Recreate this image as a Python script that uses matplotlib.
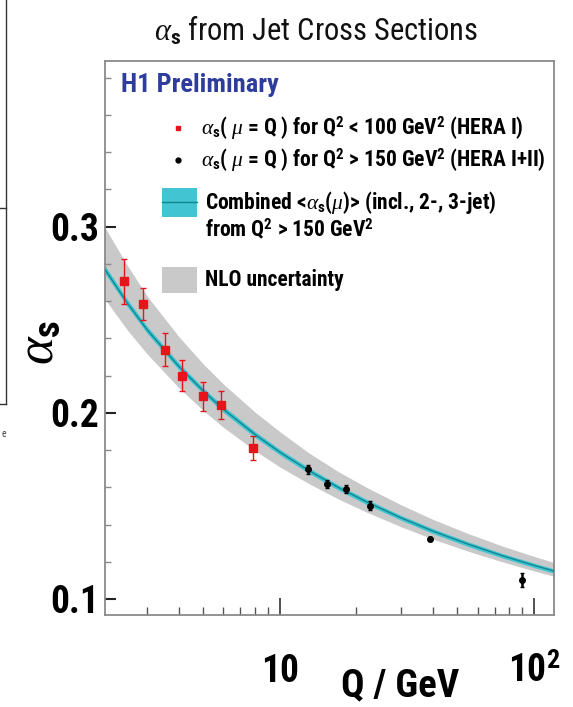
import matplotlib
matplotlib.use("Agg")
import matplotlib.pyplot as plt
from matplotlib import font_manager as fm
from matplotlib.ticker import FixedLocator, NullFormatter
from matplotlib.patches import Rectangle
from matplotlib.lines import Line2D


def narrow_family():
    """Pick an installed narrow/condensed sans family; fall back to a regular one."""
    prefer = ["Liberation Sans Narrow", "Roboto Condensed", "Open Sans Condensed",
              "Noto Sans Condensed", "DejaVu Sans Condensed", "Noto Sans",
              "DejaVu Sans", "Open Sans", "Roboto", "Lato", "Inter"]
    found = {}
    for f in fm.fontManager.ttflist:
        named = any(w in f.name for w in ("Narrow", "Condensed", "Cond"))
        stretched = str(f.stretch) == "condensed"
        if (named or stretched) and f.style == "normal":
            found.setdefault(f.name, named)
    for p in prefer:
        if p in found:
            return p, (not found[p])
    return None, False


FAM, NEED_STRETCH = narrow_family()
SCALE = 1.0
if FAM is None:
    FAM, SCALE = "Liberation Sans", 0.84
STRETCH = "condensed" if NEED_STRETCH else "normal"

plt.rcParams["font.family"] = [FAM, "Liberation Sans", "DejaVu Sans"]
plt.rcParams["font.stretch"] = STRETCH
plt.rcParams["mathtext.fontset"] = "custom"
plt.rcParams["mathtext.rm"] = f"{FAM}:bold:stretch={STRETCH}"
plt.rcParams["mathtext.bf"] = f"{FAM}:bold:stretch={STRETCH}"
plt.rcParams["mathtext.it"] = "Liberation Serif:italic"

# alpha_s(mu = Q) for Q^2 < 100 GeV^2 (HERA I)
q_low = [2.43, 2.90, 3.53, 4.12, 4.97, 5.84, 7.85]
as_low = [0.2706, 0.2584, 0.2339, 0.2199, 0.2088, 0.2043, 0.1810]
err_low = [0.0120, 0.0085, 0.0088, 0.0083, 0.0080, 0.0074, 0.0065]

# alpha_s(mu = Q) for Q^2 > 150 GeV^2 (HERA I+II)
q_high = [12.9, 15.3, 18.2, 22.6, 39.0, 89.6]
as_high = [0.1697, 0.1617, 0.1590, 0.1502, 0.1321, 0.1102]
err_high = [0.0025, 0.0020, 0.0020, 0.0022, 0.0012, 0.0035]

# combined running alpha_s with experimental and NLO theory bands
q_fit = [2.05, 2.5, 3, 4, 5, 6, 8, 10, 13, 17, 22, 30, 40, 55, 75, 100, 120]
as_fit = [0.2770, 0.2593, 0.2447, 0.2250, 0.2117, 0.2019, 0.1883, 0.1789, 0.1690,
          0.1599, 0.1521, 0.1436, 0.1365, 0.1295, 0.1233, 0.1181, 0.1150]
exp_err = [0.0021, 0.0020, 0.0019, 0.0018, 0.0017, 0.0017, 0.0016, 0.0015, 0.0015,
           0.0014, 0.0014, 0.0013, 0.0013, 0.0013, 0.0012, 0.0012, 0.0012]
nlo_hi = [0.2995, 0.2796, 0.2628, 0.2410, 0.2262, 0.2154, 0.2003, 0.1899, 0.1785,
          0.1684, 0.1599, 0.1506, 0.1428, 0.1352, 0.1285, 0.1229, 0.1196]
nlo_lo = [0.2610, 0.2448, 0.2317, 0.2135, 0.2012, 0.1922, 0.1796, 0.1709, 0.1620,
          0.1537, 0.1466, 0.1388, 0.1322, 0.1257, 0.1200, 0.1151, 0.1122]

y_ticks = [0.1, 0.2, 0.3]
y_ticklabels = ["0.1", "0.2", "0.3"]
x_ticks = [10, 100]
x_ticklabels = [r"$10$", r"$10^{2}$"]

W, H = 573, 707
fig = plt.figure(figsize=(W / 100, H / 100), dpi=100)
fig.patch.set_facecolor("white")
ax = fig.add_axes([105 / W, (H - 615) / H, 449 / W, 554 / H])

GRAY = "#c9c9c9"
CYAN = "#42c4d2"
TEAL = "#0f8790"

ax.fill_between(q_fit, nlo_lo, nlo_hi, color=GRAY, lw=0, zorder=1)
cy_lo = [a - e for a, e in zip(as_fit, exp_err)]
cy_hi = [a + e for a, e in zip(as_fit, exp_err)]
ax.fill_between(q_fit, cy_lo, cy_hi, color=CYAN, lw=0, zorder=2)
ax.plot(q_fit, as_fit, color=TEAL, lw=1.0, zorder=3)

ax.errorbar(q_low, as_low, yerr=err_low, fmt="s", color="#e8141c", ms=6,
            mec="#e8141c", elinewidth=1.0, capsize=2, capthick=1.0, zorder=5)
ax.errorbar(q_high, as_high, yerr=err_high, fmt="o", color="black", ms=4,
            elinewidth=1.8, capsize=1.5, capthick=1.0, zorder=5)

ax.set_xscale("log")
ax.set_xlim(2.05, 120)
ax.set_ylim(0.0914, 0.389)

for s in ax.spines.values():
    s.set_color("#8a8a8a")
    s.set_linewidth(1.3)

ax.set_yticks(y_ticks, labels=y_ticklabels, fontsize=27 * SCALE, fontweight="bold")
ax.yaxis.set_minor_locator(FixedLocator([0.12, 0.14, 0.16, 0.18, 0.22, 0.24, 0.26, 0.28,
                                         0.32, 0.34, 0.36, 0.38]))
ax.set_xticks(x_ticks, labels=x_ticklabels, fontsize=27 * SCALE)
ax.xaxis.set_minor_locator(FixedLocator([3, 4, 5, 6, 7, 8, 9, 20, 30, 40, 50, 60, 70, 80, 90]))
ax.xaxis.set_minor_formatter(NullFormatter())

ax.tick_params(axis="y", which="major", direction="in", length=8, width=1.5,
               color="#222222", pad=4)
ax.tick_params(axis="y", which="minor", direction="in", length=4.5, width=1.0,
               color="#8a8a8a")
ax.tick_params(axis="x", which="major", direction="in", length=12, width=1.2,
               color="#333333", pad=48)
ax.tick_params(axis="x", which="minor", direction="in", length=6, width=1.0,
               color="#555555")
ax.tick_params(top=False, right=False, which="both")
for t in ax.xaxis.get_major_ticks():
    t.label1.set_va("baseline")

ax.set_xlabel("Q / GeV", fontsize=28 * SCALE, fontweight="bold")
ax.xaxis.set_label_coords((400 - 105) / 449, (615 - 686) / 554)
ax.xaxis.label.set_va("center")

ax.set_ylabel(r"$\alpha_{\rm s}$", fontsize=38)
ax.yaxis.set_label_coords((38 - 105) / 449, (615 - 342) / 554)
ax.yaxis.label.set_va("center")

fig.text(316 / W, 1 - 31 / H, r"$\alpha_{\rm s}$ from Jet Cross Sections",
         fontsize=22 * SCALE, ha="center", va="center", color="#111111")


# legend block, placed in pixel-like positions inside the frame
def ax_xy(px, py):
    return (px - 105) / 449, (615 - py) / 554


LEG = 15.5 * SCALE
tx, ty = ax_xy(121, 85)
ax.text(tx, ty, "H1 Preliminary", transform=ax.transAxes, fontsize=19 * SCALE,
        fontweight="bold", color="#2e3d9c", va="center", ha="left")

mx, my = ax_xy(178, 128)
ax.plot([mx], [my], "s", color="#e8141c", ms=3.5, transform=ax.transAxes, clip_on=False)
tx, ty = ax_xy(201, 128)
ax.text(tx, ty, r"$\alpha_{\rm s}$( $\mu$ = Q ) for Q$^{2}$ < 100 GeV$^{2}$ (HERA I)",
        transform=ax.transAxes, fontsize=LEG, fontweight="bold", va="center")

mx, my = ax_xy(178, 160)
ax.plot([mx], [my], "o", color="black", ms=3.5, transform=ax.transAxes, clip_on=False)
tx, ty = ax_xy(201, 160)
ax.text(tx, ty, r"$\alpha_{\rm s}$( $\mu$ = Q ) for Q$^{2}$ > 150 GeV$^{2}$ (HERA I+II)",
        transform=ax.transAxes, fontsize=LEG, fontweight="bold", va="center")

x0, y0 = ax_xy(162, 217)
x1, y1 = ax_xy(197, 188)
ax.add_patch(Rectangle((x0, y0), x1 - x0, y1 - y0, transform=ax.transAxes,
                       color=CYAN, lw=0))
lx, ly = ax_xy(162, 202)
ax.plot([x0, x1], [ly, ly], color=TEAL, lw=1.0, transform=ax.transAxes)
tx, ty = ax_xy(205, 203)
ax.text(tx, ty, r"Combined <$\alpha_{\rm s}$($\mu$)> (incl., 2-, 3-jet)",
        transform=ax.transAxes, fontsize=LEG, fontweight="bold", va="center")
tx, ty = ax_xy(205, 229)
ax.text(tx, ty, r"from Q$^{2}$ > 150 GeV$^{2}$",
        transform=ax.transAxes, fontsize=LEG, fontweight="bold", va="center")

x0, y0 = ax_xy(162, 293)
x1, y1 = ax_xy(197, 267)
ax.add_patch(Rectangle((x0, y0), x1 - x0, y1 - y0, transform=ax.transAxes,
                       color=GRAY, lw=0))
tx, ty = ax_xy(205, 280)
ax.text(tx, ty, "NLO uncertainty", transform=ax.transAxes, fontsize=LEG,
        fontweight="bold", va="center")

# edge of the neighbouring panel on the slide
ex = 6 / W
fig.add_artist(Line2D([ex, ex], [1.0, 1 - 404 / H], color="#333333", lw=1.0))
fig.add_artist(Line2D([0, ex], [1 - 208 / H, 1 - 208 / H], color="#333333", lw=1.0))
fig.add_artist(Line2D([0, ex], [1 - 404 / H, 1 - 404 / H], color="#333333", lw=1.0))
fig.text(4 / W, 1 - 434 / H, "e", fontsize=7, ha="center", va="center", color="#444444")

fig.savefig("out.png", dpi=100)
